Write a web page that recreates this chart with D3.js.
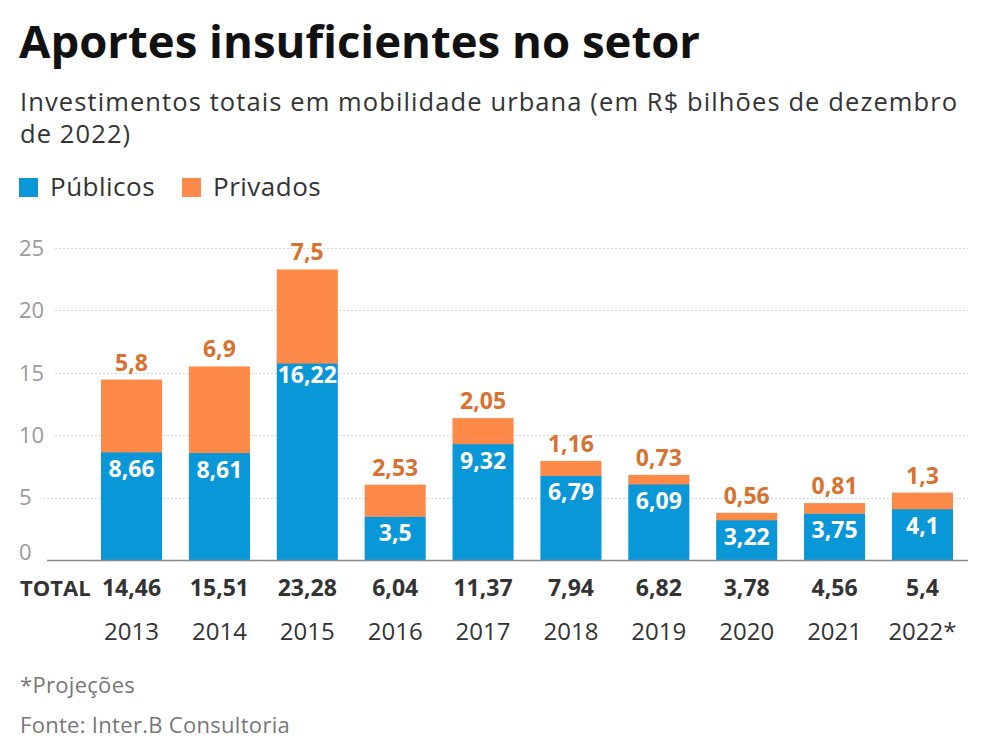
<!DOCTYPE html>
<html><head><meta charset="utf-8">
<script src="https://cdn.jsdelivr.net/npm/d3@7/dist/d3.min.js"></script>
<style>body{margin:0;background:#fff;font-family:"Open Sans",sans-serif;}</style>
</head><body>
<svg id="chart" width="984" height="752"></svg>
<script>
const years = ["2013","2014","2015","2016","2017","2018","2019","2020","2021","2022*"];
const publicos = [8.66, 8.61, 16.22, 3.5, 9.32, 6.79, 6.09, 3.22, 3.75, 4.1];
const privados = [5.8, 6.9, 7.5, 2.53, 2.05, 1.16, 0.73, 0.56, 0.81, 1.3];
const totals = [14.46, 15.51, 23.28, 6.04, 11.37, 7.94, 6.82, 3.78, 4.56, 5.4];
const yTicks = [0, 5, 10, 15, 20, 25];
const seriesNames = ["Públicos", "Privados"];

const BLUE = "#0a97d8", ORANGE = "#fe8a4a", ORANGE_TXT = "#d9712f";
const fmt = v => String(v).replace(".", ",");

const svg = d3.select("#chart");
const font = '"Open Sans", sans-serif';

// Title & subtitle
svg.append("text").attr("x", 19).attr("y", 58).attr("font-family", font)
  .attr("font-weight", 700).attr("font-size", 45.5).attr("fill", "#111")
  .text("Aportes insuficientes no setor");
const sub = ["Investimentos totais em mobilidade urbana (em R$ bilhões de dezembro", "de 2022)"];
sub.forEach((s, i) => svg.append("text").attr("x", 20).attr("y", 111 + i * 32)
  .attr("font-family", font).attr("font-size", 25.5).attr("letter-spacing", 1.1)
  .attr("fill", "#333").text(s));

// Legend
const legX = [19, 182];
seriesNames.forEach((n, i) => {
  svg.append("rect").attr("x", legX[i]).attr("y", 178).attr("width", 19).attr("height", 19)
    .attr("fill", i === 0 ? BLUE : ORANGE);
  svg.append("text").attr("x", legX[i] + 31).attr("y", 196).attr("font-family", font)
    .attr("font-size", 26).attr("letter-spacing", 0.5).attr("fill", "#333").text(n);
});

// Scales
const y = d3.scaleLinear().domain([0, 25]).range([560, 248]);
const x = d3.scaleBand().domain(years).range([87.6, 966.4]).paddingInner(0.305).paddingOuter(0.1525);

// Gridlines
const g = svg.append("g");
yTicks.filter(t => t > 0).forEach(t => {
  g.append("line").attr("x1", t === 5 ? 43 : 55).attr("x2", 968)
    .attr("y1", Math.round(y(t)) + 0.5).attr("y2", Math.round(y(t)) + 0.5)
    .attr("stroke", "#d8d8d8").attr("stroke-width", 1).attr("stroke-dasharray", "2,2");
});
yTicks.forEach(t => {
  svg.append("text").attr("x", 19).attr("y", y(t) - (t === 0 ? 8 : 0)).attr("dy", "0.35em")
    .attr("font-family", font).attr("font-size", 22).attr("fill", "#9a9a9a").text(t);
});

// Bars
years.forEach((yr, i) => {
  const bx = x(yr), bw = x.bandwidth();
  svg.append("rect").attr("x", bx).attr("width", bw)
    .attr("y", y(publicos[i])).attr("height", y(0) - y(publicos[i])).attr("fill", BLUE);
  svg.append("rect").attr("x", bx).attr("width", bw)
    .attr("y", y(totals[i])).attr("height", y(totals[i] - privados[i]) - y(totals[i]) + 0.5)
    .attr("fill", ORANGE);
  svg.append("text").attr("x", bx + bw / 2).attr("y", y(publicos[i]) + 25)
    .attr("text-anchor", "middle").attr("font-family", font).attr("font-weight", 700)
    .attr("font-size", 23).attr("fill", "#fff").text(fmt(publicos[i]));
  svg.append("text").attr("x", bx + bw / 2).attr("y", y(totals[i]) - 9)
    .attr("text-anchor", "middle").attr("font-family", font).attr("font-weight", 700)
    .attr("font-size", 23).attr("fill", ORANGE_TXT).text(fmt(privados[i]));
  svg.append("text").attr("x", bx + bw / 2).attr("y", 596)
    .attr("text-anchor", "middle").attr("font-family", font).attr("font-weight", 700)
    .attr("font-size", 23).attr("fill", "#333").text(fmt(totals[i]));
  svg.append("text").attr("x", bx + bw / 2).attr("y", 640)
    .attr("text-anchor", "middle").attr("font-family", font)
    .attr("font-size", 24).attr("fill", "#333").text(yr);
});

// Baseline
svg.append("line").attr("x1", 47).attr("x2", 968).attr("y1", 560.5).attr("y2", 560.5)
  .attr("stroke", "#888").attr("stroke-width", 1.5);

svg.append("text").attr("x", 20).attr("y", 596).attr("font-family", font).attr("font-weight", 700)
  .attr("font-size", 22).attr("fill", "#333").text("TOTAL");

// Footer
svg.append("text").attr("x", 20).attr("y", 693).attr("font-family", font)
  .attr("font-size", 22).attr("letter-spacing", 0.3).attr("fill", "#777").text("*Projeções");
svg.append("text").attr("x", 20).attr("y", 733).attr("font-family", font)
  .attr("font-size", 22).attr("letter-spacing", 0.3).attr("fill", "#777").text("Fonte: Inter.B Consultoria");
</script>
</body></html>
